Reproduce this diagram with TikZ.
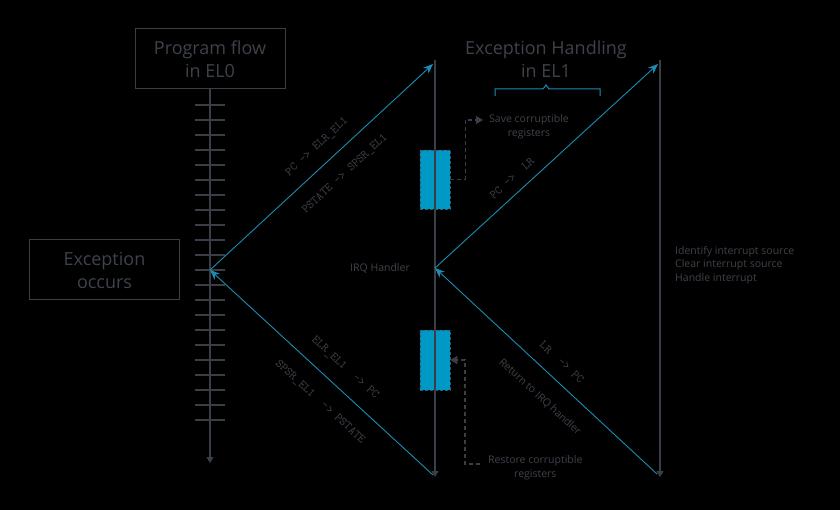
\documentclass[tikz,border=0pt]{standalone}
\usepackage{fontspec}
\setmainfont{Open Sans}
\usetikzlibrary{arrows.meta}
\usetikzlibrary{positioning}
\usepackage{xcolor}
\definecolor{linegray}{HTML}{3A3F47}
\definecolor{textgray}{HTML}{3E434B}
\definecolor{armblue}{HTML}{1B8DB5}
\definecolor{regblue}{HTML}{0098C5}
\definecolor{regedge}{HTML}{2A5F73}

\begin{document}
\begin{tikzpicture}[x=1pt,y=-1pt]
		\tikzstyle{block} = [rectangle, draw=linegray, line width=1pt, text=textgray,
		minimum width=150pt, minimum height=60pt, align=center, font=\fontsize{18}{23}\selectfont]
		\tikzstyle{title} = [text=textgray, align=center, font=\fontsize{18}{23}\selectfont]
		\tikzstyle{noblock} = [text=textgray, align=center, inner sep=0pt, font=\fontsize{10.5}{14}\selectfont]
		\tikzstyle{regblock} = [rectangle, draw=regedge, line width=0.6pt, dash pattern=on 3pt off 2pt,
		fill=regblue, minimum width=30pt, minimum height=60pt]
		\tikzstyle{code} = [text=textgray, inner sep=0pt, font=\ttfamily\fontsize{12}{14}\selectfont]
		\tikzstyle{timeline} = [draw=linegray, line width=1.2pt, -{Triangle[length=6pt, width=7pt]}]
		\tikzstyle{tick} = [draw=linegray, line width=1.2pt]
		\tikzstyle{jump} = [draw=armblue, line width=0.9pt, -{Stealth[length=10pt, width=8pt]}]
		\tikzstyle{dashline} = [draw=linegray, line width=1.2pt, dash pattern=on 4pt off 3pt,
		-{Triangle[length=7pt, width=8pt]}]

		% background
		\fill[black] (0,0) rectangle (840,510);
		\useasboundingbox (0,0) rectangle (840,510);

		% points on the time lines
		\coordinate (exc) at (210,270);
		\coordinate (irq) at (435,268);
		\coordinate (el0end) at (210,463);
		\coordinate (el1top) at (435,60);
		\coordinate (el1end) at (435,477);
		\coordinate (hdltop) at (660,60);
		\coordinate (hdlend) at (660,477);
		\coordinate (el1in) at (433,64);
		\coordinate (el1out) at (433,475);
		\coordinate (hdlin) at (658,64);
		\coordinate (hdlout) at (657,474);

		% Program flow in EL0
		\node [block] (flow) at (210,59) {Program flow\\in EL0};
		\node [block, left=30pt of exc] (occurs) {Exception\\occurs};
		\draw [timeline] (flow.south) -- (el0end);
		\foreach \y in {0,...,21}
			\draw [tick] (195,105+15*\y) -- (225,105+15*\y);

		% Exception handling in EL1
		\node [title] (el1) at (546,59) {Exception Handling\\in EL1};
		\draw [armblue, line width=1pt] (495,96) -- (495,89) -- (543,89) -- (546,85) -- (549,89) -- (600,89) -- (600,96);
		\node [regblock, minimum height=59pt] (save) at (435,179.5) {};
		\node [regblock] (restore) at (435,360) {};
		\draw [timeline] (el1top) -- (el1end);
		\draw [timeline] (hdltop) -- (hdlend);
		\node [noblock, left=25pt of irq] (irqtxt) {IRQ Handler};

		% save / restore
		\coordinate (savept) at (483,120);
		\node [noblock, right=6pt of savept, yshift=-7pt] (savetxt) {Save corruptible\\registers};
		\draw [dashline] (save.east) -- ++(15,0) |- (savept);
		\coordinate (restpt) at (480,464);
		\node [noblock, right=8pt of restpt, yshift=-4pt] (resttxt) {Restore corruptible\\registers};
		\draw [dashline] (restpt) -- ++(-15,0) |- (restore.east);

		% handler steps
		\node [noblock, align=left, anchor=west, font=\fontsize{10.5}{13.5}\selectfont] (steps) at (675,265) {Identify interrupt source\\Clear interrupt source\\Handle interrupt};

		% arrows
		\draw [jump] (exc) -- (el1in);
		\node [code, rotate=42.8] at (317,147) {PC -> ELR\_EL1};
		\node [code, rotate=42.8] at (345,174) {PSTATE -> SPSR\_EL1};
		%
		\draw [jump] (el1out) -- (exc);
		\node [code, rotate=-42.6] at (345,368) {ELR\_EL1\ \ ->\ PC};
		\node [code, rotate=-42.6] at (320,402) {SPSR\_EL1\ \ ->\ PSTATE};
		%
		\draw [jump] (irq) -- (hdlin);
		\node [code, rotate=42.5] at (512,178) {PC\ ->\ \ LR};
		%
		\draw [jump] (hdlout) -- (irq);
		\node [code, rotate=-42.5] at (562,362) {LR\ \ ->\ PC};
		\node [noblock, rotate=-42.5] at (540,397) {Return to IRQ handler};

	\end{tikzpicture}
\end{document}
